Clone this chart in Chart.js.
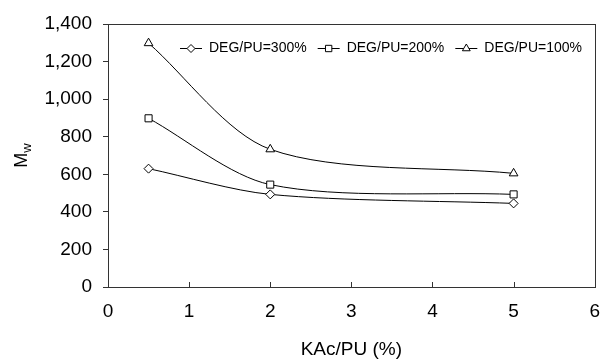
<!DOCTYPE html>
<html>
<head>
    <title>Mw vs KAc/PU</title>
    <script src="https://cdn.jsdelivr.net/npm/chart.js@4/dist/chart.umd.min.js"></script>
    <style>
        body { margin: 0; background: #fff; }
    </style>
</head>
<body>
    <canvas id="mwChart" width="613" height="361"></canvas>

    <script>
        const kacPu = [0.5, 2, 5];
        const deg300 = [630, 493, 445];
        const deg200 = [898, 545, 493];
        const deg100 = [1298, 733, 605];
        const seriesLabels = ['DEG/PU=300%', 'DEG/PU=200%', 'DEG/PU=100%'];
        const pointStyles = ['rectRot', 'rect', 'triangle'];
        const FONT = 'Liberation Sans, Arial, sans-serif';

        function toPoints(ys) {
            return kacPu.map(function(x, i) { return { x: x, y: ys[i] }; });
        }

        // frame, inward x ticks, custom legend and subscript y title
        const decorations = {
            id: 'decorations',
            afterDraw: function(chart) {
                const ctx = chart.ctx;
                const a = chart.chartArea;
                const xs = chart.scales.x;
                ctx.save();
                ctx.strokeStyle = '#333';
                ctx.lineWidth = 1;
                ctx.strokeRect(Math.round(a.left) + 0.5, Math.round(a.top) + 0.5,
                    Math.round(a.right - a.left), Math.round(a.bottom - a.top));
                xs.ticks.forEach(function(t) {
                    const px = Math.round(xs.getPixelForValue(t.value)) + 0.5;
                    ctx.beginPath();
                    ctx.moveTo(px, a.bottom);
                    ctx.lineTo(px, a.bottom - 5);
                    ctx.stroke();
                });

                // legend
                ctx.font = '14px ' + FONT;
                ctx.textBaseline = 'middle';
                ctx.fillStyle = '#000';
                let lx = 180;
                const ly = 48;
                chart.data.datasets.forEach(function(ds) {
                    ctx.strokeStyle = '#000';
                    ctx.beginPath();
                    ctx.moveTo(lx, ly + 0.5);
                    ctx.lineTo(lx + 22, ly + 0.5);
                    ctx.stroke();
                    ctx.fillStyle = '#fff';
                    Chart.helpers.drawPoint(ctx, {
                        pointStyle: ds.pointStyle,
                        radius: ds.pointRadius - 0.5,
                        borderWidth: 1
                    }, lx + 11, ly + 0.5);
                    ctx.fillStyle = '#000';
                    ctx.fillText(ds.label, lx + 29, ly);
                    lx += 29 + ctx.measureText(ds.label).width + 11;
                });

                // y title: M with subscript w
                ctx.translate(21, (a.top + a.bottom) / 2);
                ctx.rotate(-Math.PI / 2);
                ctx.textBaseline = 'alphabetic';
                ctx.font = '18px ' + FONT;
                const mw = ctx.measureText('M').width;
                ctx.font = '13px ' + FONT;
                const ww = ctx.measureText('w').width;
                const start = -(mw + ww) / 2;
                ctx.font = '18px ' + FONT;
                ctx.fillText('M', start, 6);
                ctx.font = '13px ' + FONT;
                ctx.fillText('w', start + mw, 10);
                ctx.restore();
            }
        };

        const styleFor = function(i, ys) {
            return {
                label: seriesLabels[i],
                data: toPoints(ys),
                showLine: true,
                borderColor: '#000',
                borderWidth: 1,
                backgroundColor: '#fff',
                pointStyle: pointStyles[i],
                pointRadius: i === 0 ? 4.5 : 5,
                pointBorderColor: '#000',
                pointBorderWidth: 1,
                pointBackgroundColor: '#fff',
                tension: 0.3,
                fill: false
            };
        };

        const ctx = document.getElementById('mwChart').getContext('2d');
        new Chart(ctx, {
            type: 'scatter',
            data: {
                datasets: [styleFor(0, deg300), styleFor(1, deg200), styleFor(2, deg100)]
            },
            options: {
                responsive: false,
                animation: false,
                layout: { autoPadding: false, padding: { top: 24, right: 13, left: 0, bottom: 0 } },
                plugins: {
                    legend: { display: false },
                    tooltip: { enabled: false }
                },
                scales: {
                    x: {
                        type: 'linear',
                        min: 0,
                        max: 6,
                        ticks: {
                            stepSize: 1,
                            color: '#000',
                            padding: 13,
                            font: { family: FONT, size: 19 }
                        },
                        grid: { display: true, drawOnChartArea: false, drawTicks: false },
                        border: { color: '#333' },
                        title: {
                            display: true,
                            text: 'KAc/PU (%)',
                            color: '#000',
                            padding: { top: 8, bottom: 0 },
                            font: { family: FONT, size: 19 }
                        },
                        afterFit: function(scale) { scale.height = 74; }
                    },
                    y: {
                        min: 0,
                        max: 1400,
                        ticks: {
                            stepSize: 200,
                            color: '#000',
                            padding: 11,
                            font: { family: FONT, size: 19 },
                            callback: function(v) { return v.toLocaleString('en-US'); }
                        },
                        grid: { drawOnChartArea: false, tickLength: 5, color: '#333' },
                        border: { color: '#333' },
                        afterFit: function(scale) { scale.width = 108; }
                    }
                }
            },
            plugins: [decorations]
        });
    </script>
</body>
</html>
